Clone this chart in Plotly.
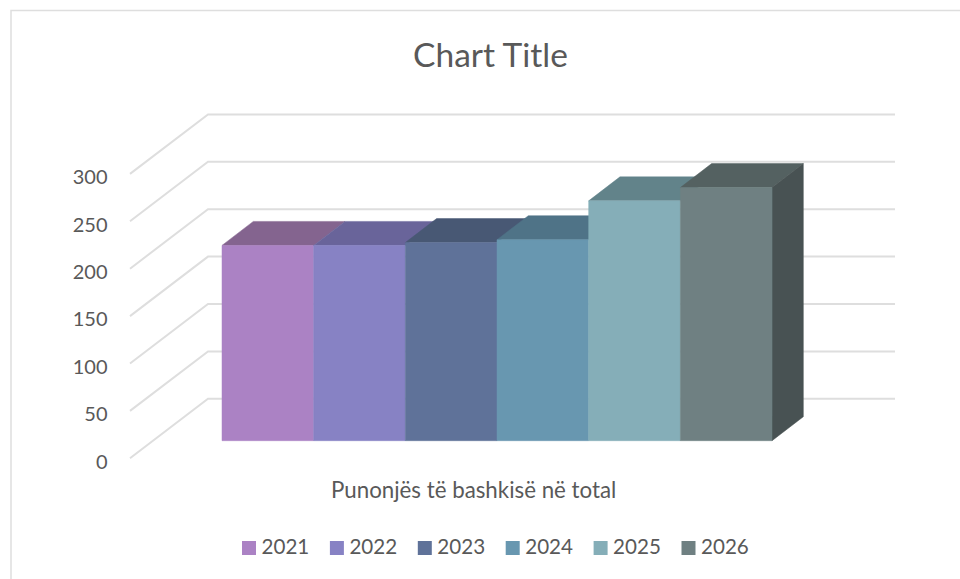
import plotly.graph_objects as go

years = ["2021", "2022", "2023", "2024", "2025", "2026"]
values = [206, 206, 209, 212, 253, 267]
front_colors = ["#AB82C4", "#8782C4", "#5F7299", "#6897B0", "#85AEB8", "#6F8082"]
top_colors = ["#84648F", "#69649A", "#485874", "#4F7387", "#62838A", "#546161"]
side_color = "#485253"
y_ticks = [0, 50, 100, 150, 200, 250, 300]
category_label = "Punonjës të bashkisë në total"
title_text = "Chart Title"

W, H = 960, 579
PX_PER_UNIT = 0.948
ZERO_PX = 458.3
BAR_W = 91.67
X0_PX = 222
AXIS_LEFT = 108.5
TEXT = "#595959"
GRID = "#DEDEDE"
LABEL_DROP_PX = 3.2

# scales: x in category widths, y in value units
x_min = (AXIS_LEFT - X0_PX) / BAR_W
x_max = (W - X0_PX) / BAR_W
y_min = (ZERO_PX - H) / PX_PER_UNIT
y_max = ZERO_PX / PX_PER_UNIT

# oblique depth of the wall (in x, y units)
wall_dx, wall_dy = 78 / BAR_W, 59.5 / PX_PER_UNIT
bar_dx, bar_dy = 31.3 / BAR_W, 24 / PX_PER_UNIT
grid_front_x = (130 - X0_PX) / BAR_W
grid_back_x = (208 - X0_PX) / BAR_W
grid_end_x = (895 - X0_PX) / BAR_W
bar_base = (ZERO_PX - 440.7) / PX_PER_UNIT

fig = go.Figure()

for t in y_ticks:
    fig.add_trace(go.Scatter(
        x=[grid_front_x, grid_back_x, grid_end_x],
        y=[t, t + wall_dy, t + wall_dy],
        mode="lines", line=dict(color=GRID, width=2),
        showlegend=False, hoverinfo="skip"))

def face(xs, ys, color):
    fig.add_trace(go.Scatter(
        x=xs, y=ys, mode="lines", fill="toself", fillcolor=color,
        line=dict(color=color, width=0.5),
        showlegend=False, hoverinfo="skip"))

n = len(values)
for i, v in enumerate(values):
    top = bar_base + v
    # top face
    face([i, i + 1, i + 1 + bar_dx, i + bar_dx, i],
         [top, top, top + bar_dy, top + bar_dy, top], top_colors[i])
    if i == n - 1:
        face([i + 1, i + 1 + bar_dx, i + 1 + bar_dx, i + 1, i + 1],
             [bar_base, bar_base + bar_dy, top + bar_dy, top, bar_base], side_color)
    # front face
    face([i, i + 1, i + 1, i, i],
         [bar_base, bar_base, top, top, bar_base], front_colors[i])

# legend row: swatch and label for each year
LEG_X0, LEG_STEP, LEG_Y = 249, 87.9, 548
for k, (yr, c) in enumerate(zip(years, front_colors)):
    fig.add_trace(go.Scatter(
        x=[(LEG_X0 + k * LEG_STEP - X0_PX) / BAR_W],
        y=[(ZERO_PX - LEG_Y) / PX_PER_UNIT],
        mode="markers", name=yr,
        marker=dict(symbol="square", size=14, color=c, line=dict(width=0)),
        showlegend=False, hoverinfo="skip"))
    fig.add_trace(go.Scatter(
        x=[(LEG_X0 + 12.5 + k * LEG_STEP - X0_PX) / BAR_W],
        y=[(ZERO_PX - LEG_Y - 0.8) / PX_PER_UNIT],
        mode="text", name=yr, text=[yr], textposition="middle right",
        textfont=dict(family="Lato", size=20.6, color=TEXT),
        showlegend=False, hoverinfo="skip"))

fig.update_layout(
    width=W, height=H, autosize=False,
    margin=dict(l=0, r=0, t=0, b=0),
    paper_bgcolor="white", plot_bgcolor="white",
    font=dict(family="Lato", size=20, color=TEXT),
    showlegend=False,
    title=dict(text=title_text, x=490.5 / W, xanchor="center",
               y=1 - 55 / H, yanchor="middle",
               font=dict(family="Lato", size=33.5, color=TEXT)),
    xaxis=dict(domain=[AXIS_LEFT / W, 1], range=[x_min, x_max], visible=False, fixedrange=True),
    yaxis=dict(domain=[0, 1], range=[y_min, y_max], tickmode="array",
               tickvals=[t - LABEL_DROP_PX / PX_PER_UNIT for t in y_ticks],
               ticktext=[str(t) for t in y_ticks],
               ticks="", showgrid=False, zeroline=False, showline=False,
               tickfont=dict(family="Lato", size=20, color=TEXT), fixedrange=True),
    annotations=[dict(text=category_label, xref="paper", yref="paper",
                      x=473.2 / W, y=1 - 489.5 / H, xanchor="center", yanchor="middle",
                      showarrow=False, font=dict(family="Lato", size=22.3, color=TEXT))],
    shapes=[dict(type="path", xref="paper", yref="paper",
                 path=f"M {11/W} 0 L {11/W} {1-10.5/H} L 1 {1-10.5/H}",
                 line=dict(color=GRID, width=1.5), layer="below")],
)

fig.write_html("out.html", config=dict(displayModeBar=False),
               post_script="document.body.style.margin='0';")
